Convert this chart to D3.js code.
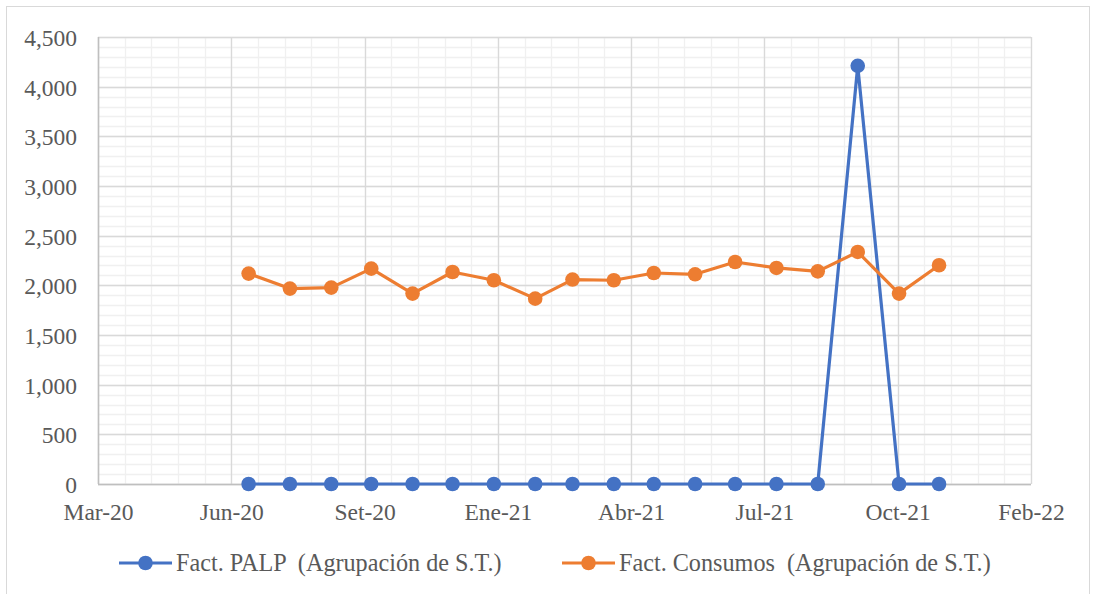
<!DOCTYPE html>
<html>
<head>
<meta charset="utf-8">
<script src="https://cdn.jsdelivr.net/npm/d3@7"></script>
<style>
  body { margin: 0; background: #ffffff; }
  text { font-family: "Liberation Serif", "Times New Roman", serif; fill: #595959; }
</style>
</head>
<body>
<div id="chart"></div>
<script>
// monthly points, Jul-2020 .. Dec-2021
var months = ["2020-07-01","2020-08-01","2020-09-01","2020-10-01","2020-11-01","2020-12-01",
              "2021-01-01","2021-02-01","2021-03-01","2021-04-01","2021-05-01","2021-06-01",
              "2021-07-01","2021-08-01","2021-09-01","2021-10-01","2021-11-01","2021-12-01"];
var palp = [0,0,0,0,0,0,0,0,0,0,0,0,0,0,0,4210,0,0];
var consumos = [2118,1967,1977,2168,1917,2134,2051,1866,2058,2051,2124,2111,2235,2175,2141,2336,1917,2202];
var seriesNames = ["Fact. PALP  (Agrupación de S.T.)", "Fact. Consumos  (Agrupación de S.T.)"];
var seriesColors = ["#4472C4", "#ED7D31"];
var mesesEs = ["Ene","Feb","Mar","Abr","May","Jun","Jul","Ago","Set","Oct","Nov","Dic"];
var yTicks = [0,500,1000,1500,2000,2500,3000,3500,4000,4500];
var axisStart = "2020-03-10";  // excel date axis min, major unit 100 days
var majorDays = 100, minorDays = 20, spanDays = 700;

var draw = function(){
  var W = 1094, H = 594;
  var pLeft = 98, pRight = 1031, pTop = 37, pBottom = 484;

  var parse = d3.utcParse("%Y-%m-%d");
  var dates = months.map(parse);
  var d0 = parse(axisStart);

  var x = d3.scaleUtc()
    .domain([d0, d3.utcDay.offset(d0, spanDays)])
    .range([pLeft, pRight]);
  var y = d3.scaleLinear().domain([0, 4500]).range([pBottom, pTop]);

  var svg = d3.select("#chart").append("svg")
    .attr("width", W).attr("height", H);

  svg.append("rect")
    .attr("x", 6.5).attr("y", 6.5)
    .attr("width", 1083).attr("height", 600)
    .attr("fill", "#ffffff").attr("stroke", "#d9d9d9");

  // minor gridlines
  var minorX = d3.range(0, spanDays + 1, minorDays).map(function(d){ return d3.utcDay.offset(d0, d); });
  var minorY = d3.range(0, 4501, 100);
  var grid = svg.append("g");
  grid.selectAll(".mx").data(minorY).enter().append("line")
    .attr("x1", pLeft).attr("x2", pRight)
    .attr("y1", function(d){ return Math.round(y(d)) + 0.5; })
    .attr("y2", function(d){ return Math.round(y(d)) + 0.5; })
    .attr("stroke", "#f0f0f0").attr("stroke-width", 1.3);
  grid.selectAll(".my").data(minorX).enter().append("line")
    .attr("y1", pTop).attr("y2", pBottom)
    .attr("x1", function(d){ return Math.round(x(d)) + 0.5; })
    .attr("x2", function(d){ return Math.round(x(d)) + 0.5; })
    .attr("stroke", "#f0f0f0").attr("stroke-width", 1.3);

  // major gridlines
  var majorX = d3.range(0, spanDays + 1, majorDays).map(function(d){ return d3.utcDay.offset(d0, d); });
  grid.selectAll(".Mx").data(yTicks).enter().append("line")
    .attr("x1", pLeft).attr("x2", pRight)
    .attr("y1", function(d){ return Math.round(y(d)) + 0.5; })
    .attr("y2", function(d){ return Math.round(y(d)) + 0.5; })
    .attr("stroke", "#d9d9d9").attr("stroke-width", 1.3);
  grid.selectAll(".My").data(majorX).enter().append("line")
    .attr("y1", pTop).attr("y2", pBottom)
    .attr("x1", function(d){ return Math.round(x(d)) + 0.5; })
    .attr("x2", function(d){ return Math.round(x(d)) + 0.5; })
    .attr("stroke", "#d9d9d9").attr("stroke-width", 1.3);

  // axis lines
  svg.append("line").attr("x1", pLeft + 0.5).attr("x2", pLeft + 0.5)
    .attr("y1", pTop).attr("y2", pBottom).attr("stroke", "#bfbfbf").attr("stroke-width", 1.5);
  svg.append("line").attr("x1", pLeft).attr("x2", pRight)
    .attr("y1", pBottom + 0.5).attr("y2", pBottom + 0.5).attr("stroke", "#bfbfbf").attr("stroke-width", 1.5);

  // axis labels
  var fmtY = d3.format(",");
  var yAxis = d3.axisLeft(y).tickValues(yTicks).tickSize(0).tickPadding(21)
    .tickFormat(function(d){ return fmtY(d); });
  var gy = svg.append("g").attr("transform", "translate(" + pLeft + ",0)").call(yAxis);
  gy.select(".domain").remove();
  gy.selectAll("text").attr("font-family", null).attr("font-size", null)
    .style("font-size", "23.5px").attr("fill", null).attr("dy", "0.36em");

  var xAxis = d3.axisBottom(x).tickValues(majorX).tickSize(0).tickPadding(0)
    .tickFormat(function(d){ return mesesEs[d.getUTCMonth()] + "-" + String(d.getUTCFullYear()).slice(2); });
  var gx = svg.append("g").attr("transform", "translate(0," + pBottom + ")").call(xAxis);
  gx.select(".domain").remove();
  gx.selectAll("text").attr("font-family", null).attr("font-size", null)
    .style("font-size", "23.5px").attr("fill", null).attr("y", 36).attr("dy", null);

  // series
  var allSeries = [palp, consumos];
  allSeries.forEach(function(vals, i){
    var pts = dates.map(function(d, j){ return {date: d, value: vals[j]}; });
    var line = d3.line().x(function(d){ return x(d.date); }).y(function(d){ return y(d.value); });
    var g = svg.append("g");
    g.append("path").datum(pts).attr("d", line)
      .attr("fill", "none").attr("stroke", seriesColors[i])
      .attr("stroke-width", 3.2).attr("stroke-linejoin", "round");
    g.selectAll("circle").data(pts).enter().append("circle")
      .attr("cx", function(d){ return x(d.date); })
      .attr("cy", function(d){ return y(d.value); })
      .attr("r", 7.3).attr("fill", seriesColors[i]);
  });

  // legend
  var legendX = [119, 562];
  var legendY = 563;
  seriesNames.forEach(function(name, i){
    var lg = svg.append("g").attr("transform", "translate(" + legendX[i] + "," + legendY + ")");
    lg.append("line").attr("x1", 0).attr("x2", 53).attr("y1", 0).attr("y2", 0)
      .attr("stroke", seriesColors[i]).attr("stroke-width", 3.2);
    lg.append("circle").attr("cx", 26.5).attr("cy", 0).attr("r", 7.3).attr("fill", seriesColors[i]);
    lg.append("text").attr("x", 57).attr("y", 8)
      .style("font-size", "24.2px").style("white-space", "pre").text(name);
  });
};

draw();
</script>
</body>
</html>
